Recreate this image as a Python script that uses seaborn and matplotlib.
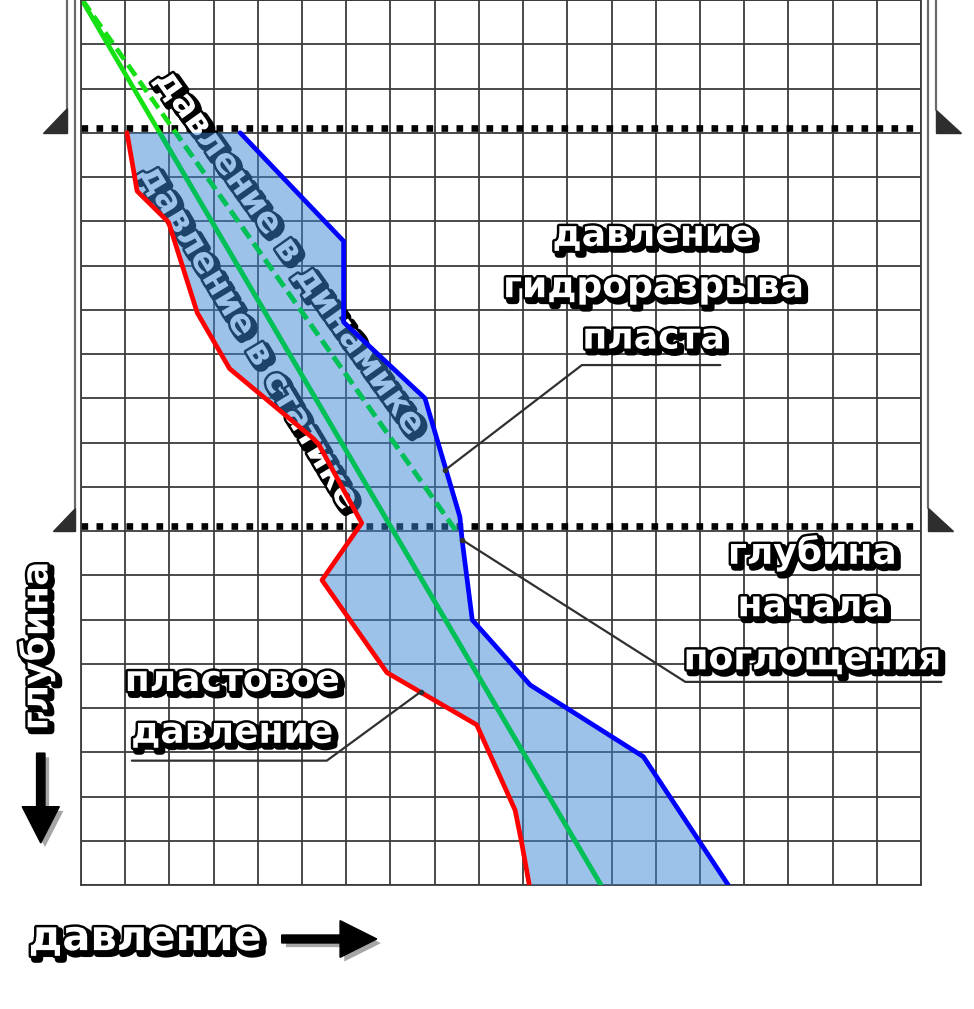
import numpy as np
import matplotlib
matplotlib.use("Agg")
import matplotlib.pyplot as plt
import matplotlib.patheffects as pe
from matplotlib.patches import Polygon, FancyArrow
import seaborn as sns

# --- data (grid units: x = pressure cells, y = depth cells, depth grows downward) ---
formation_x = [1.04, 1.27, 1.98, 2.63, 3.36, 5.22, 5.37, 6.35, 5.45, 6.92, 8.95, 9.82, 9.97, 10.14]
formation_y = [3.0, 4.32, 5.02, 7.07, 8.33, 9.88, 10.03, 11.82, 13.11, 15.2, 16.38, 18.31, 19.06, 20.0]

frac_x = [3.60, 5.94, 5.94, 7.78, 8.57, 8.62, 8.85, 10.16, 12.72, 14.64]
frac_y = [3.0, 5.45, 7.28, 9.0, 11.68, 12.2, 14.01, 15.48, 17.1, 20.0]

static_x = [0.02, 11.76]
static_y = [0.0, 20.0]

dynamic_x = [0.03, 8.52]
dynamic_y = [0.0, 12.05]

zone_marks = [2.89, 11.88]          # dotted lines: interval boundaries
n_cols, n_rows = 19, 20

frac_label = ["давление", "гидроразрыва", "пласта"]
loss_label = ["глубина", "начала", "поглощения"]
formation_label = ["пластовое", "давление"]

# --- style ---
sns.set_theme(style="white")
plt.rcParams["font.family"] = ["DejaVu Sans"]

fig = plt.figure(figsize=(9.74, 10.09), dpi=100)
ax = fig.add_axes([81 / 974, 1 - 885 / 1009, 840 / 974, 885 / 1009])
ax.set_xlim(0, n_cols)
ax.set_ylim(n_rows, 0)
ax.set_xticks(range(n_cols + 1))
ax.set_yticks(range(n_rows + 1))
ax.tick_params(length=0, labelbottom=False, labelleft=False)
ax.set_axisbelow(True)
ax.grid(True, color="#3c3c3c", lw=1.3)
for s in ax.spines.values():
    s.set_color("#3c3c3c")
    s.set_linewidth(1.3)

# dotted boundaries of the absorption interval
for y in zone_marks:
    ax.axhline(y, color="black", lw=4.8, linestyle=(0, (1, 1.25)),
               dash_capstyle="butt", zorder=1.5)

# bright green lines (visible above the shaded zone)
sns.lineplot(x=static_x, y=static_y, sort=False, estimator=None, color="#14e014", lw=3.4, ax=ax, zorder=2)
sns.lineplot(x=dynamic_x, y=dynamic_y, sort=False, estimator=None, color="#14e014", lw=3.4, ax=ax, zorder=2)
ax.lines[-1].set_linestyle((0, (2.8, 1.4)))

# text that sits under the translucent fill
outline = [pe.Stroke(linewidth=5, foreground="black", offset=(2.5, -2.5)),
           pe.Stroke(linewidth=3.5, foreground="black"), pe.Normal()]
ax.text(4.72, 5.7, "давление в динамике", rotation=-54.5, ha="center", va="center",
        fontsize=25, fontweight="bold", color="white", path_effects=outline, zorder=2.5,
        rotation_mode="anchor")
ax.text(3.8, 7.62, "давление в статике", rotation=-59, ha="center", va="center",
        fontsize=25, fontweight="bold", color="white", path_effects=outline, zorder=2.5,
        rotation_mode="anchor")

# shaded zone between formation pressure and fracture pressure
zone = ax.fill(np.concatenate([formation_x, frac_x[::-1]]),
               np.concatenate([formation_y, frac_y[::-1]]),
               color="#3b87d5", alpha=0.5, lw=0, zorder=3)[0]

# darker green inside the zone
sns.lineplot(x=static_x, y=static_y, sort=False, estimator=None, color="#00c058", lw=3.4, ax=ax, zorder=3.5)
ax.lines[-1].set_clip_path(zone)
sns.lineplot(x=dynamic_x, y=dynamic_y, sort=False, estimator=None, color="#00c058", lw=3.4, ax=ax, zorder=3.5)
ax.lines[-1].set_clip_path(zone)
ax.lines[-1].set_linestyle((0, (2.8, 1.4)))

sns.lineplot(x=formation_x, y=formation_y, sort=False, estimator=None, color="#ff0000", lw=3.4, ax=ax, zorder=4)
sns.lineplot(x=frac_x, y=frac_y, sort=False, estimator=None, color="#0000ff", lw=3.4, ax=ax, zorder=4)

# leader lines
leaders = [([8.24, 11.33, 14.46], [10.62, 8.25, 8.25]),
           ([8.62, 13.67, 19.46], [12.2, 15.41, 15.41]),
           ([7.69, 5.56, 1.15], [15.63, 17.19, 17.19])]
for lx, ly in leaders:
    ax.plot(lx, ly, color="#303030", lw=1.6, zorder=5, clip_on=False)
    ax.plot(lx[0], ly[0], "o", color="#303030", ms=3, zorder=5)

# labels
def label(x, y, s, size=26, rot=0):
    ax.text(x, y, s, ha="center", va="center", fontsize=size, fontweight="bold",
            color="white", rotation=rot, path_effects=outline, zorder=6, clip_on=False)

for i, s in enumerate(frac_label):
    label(12.95, 5.33 + 1.16 * i, s)
for i, s in enumerate(loss_label):
    label(16.54, 12.5 + 1.2 * i, s)
for i, s in enumerate(formation_label):
    label(3.42, 15.39 + 1.17 * i, s)
label(-1.0, 14.6, "глубина", size=26, rot=90)
label(1.45, 21.2, "давление", size=30)

# axis arrows
shadow = [pe.SimplePatchShadow(offset=(3, -3), alpha=0.35), pe.Normal()]
ax.add_patch(FancyArrow(-0.91, 17.02, 0, 2.03, width=0.19, head_width=0.84, head_length=0.82,
                        length_includes_head=True, color="black", clip_on=False, path_effects=shadow))
ax.add_patch(FancyArrow(4.54, 21.22, 2.15, 0, width=0.18, head_width=0.83, head_length=0.83,
                        length_includes_head=True, color="black", clip_on=False, path_effects=shadow))

# bracket marks on both sides of the absorption interval
frame_kw = dict(color="#6a6a6a", lw=1.6, clip_on=False, zorder=5)
ax.plot([-0.324, -0.324], [0, 2.45], **frame_kw)
ax.plot([-0.136, -0.136], [0, 11.48], **frame_kw)
ax.plot([19.34, 19.34], [0, 2.49], **frame_kw)
ax.plot([19.155, 19.155], [0, 11.48], **frame_kw)
tri = [[(-0.853, 3.0), (-0.324, 3.0), (-0.324, 2.45)],
       [(-0.64, 12.0), (-0.136, 12.0), (-0.136, 11.48)],
       [(19.34, 2.49), (19.34, 3.0), (19.91, 3.0)],
       [(19.155, 11.48), (19.155, 12.0), (19.72, 12.0)]]
for t in tri:
    ax.add_patch(Polygon(t, closed=True, color="#2e2e2e", clip_on=False, zorder=5))

fig.savefig("out.png", dpi=100)
